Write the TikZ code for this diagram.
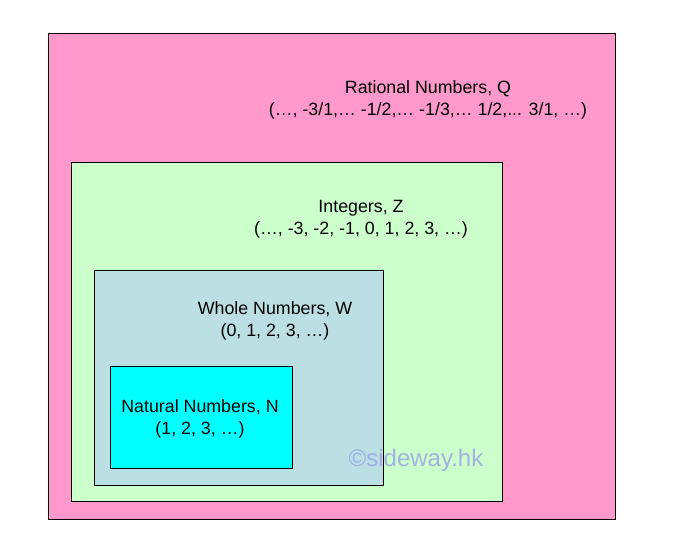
\documentclass[tikz,border=0pt]{standalone}
\usepackage{fontspec}
\setmainfont{Liberation Sans}
\begin{document}
\begin{tikzpicture}[x=1pt,y=-1pt,
  setbox/.style={draw=black,line width=1pt},
  lbl/.style={align=center,font=\fontsize{17.8}{21.5}\selectfont,inner sep=0pt}]
\useasboundingbox (0,0) rectangle (673,541);
\fill[white] (0,0) rectangle (673,541);
\filldraw[setbox,fill={rgb,255:red,255;green,153;blue,204}] (48,33) rectangle (615,519);
\filldraw[setbox,fill={rgb,255:red,204;green,255;blue,204}] (71,162) rectangle (502,501);
\filldraw[setbox,fill={rgb,255:red,187;green,223;blue,227}] (94,270) rectangle (383,485);
\filldraw[setbox,fill={rgb,255:red,0;green,255;blue,255}] (110,366) rectangle (292,468);
\node[lbl] (q) at (428,100) {Rational Numbers, Q\\(…, -3/1,… -1/2,… -1/3,… 1/2,... 3/1, …)};
\node[lbl] (z) at (361,219) {Integers, Z\\(…, -3, -2, -1, 0, 1, 2, 3, …)};
\node[lbl] (w) at (275,321) {Whole Numbers, W\\(0, 1, 2, 3, …)};
\node[lbl] (n) at (200,419) {Natural Numbers, N\\(1, 2, 3, …)};
\node[font=\fontsize{24}{28}\selectfont,text={rgb,255:red,150;green,160;blue,230},text opacity=0.8,inner sep=0pt] (wm) at (416,460) {©sideway.hk};
\end{tikzpicture}
\end{document}
